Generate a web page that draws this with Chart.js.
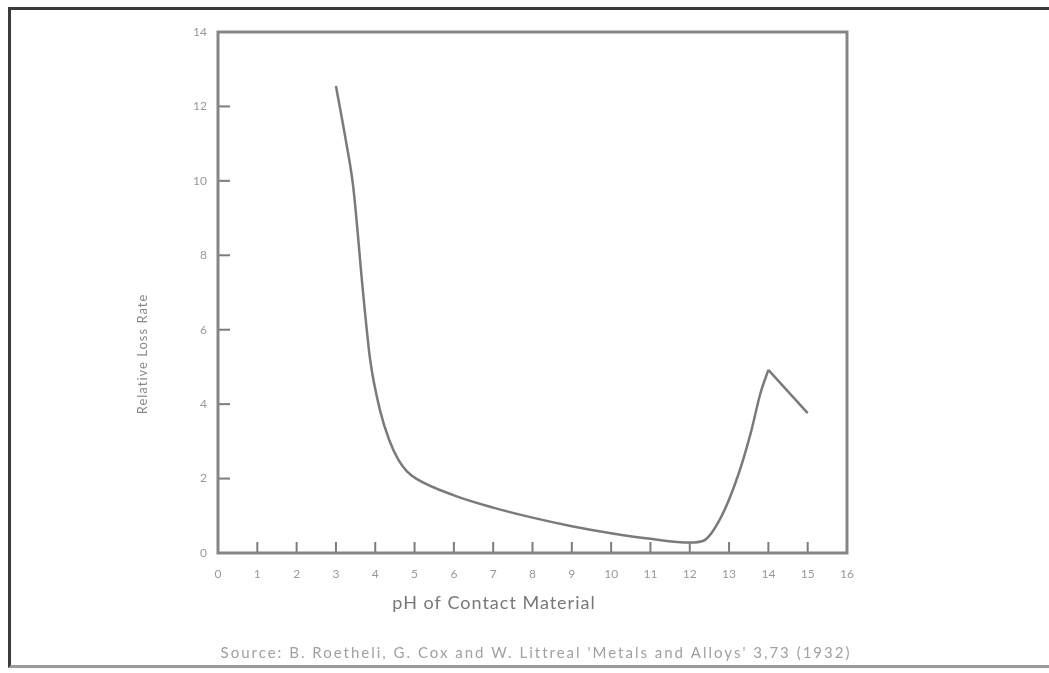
<!DOCTYPE html>
<html>
<head>
<meta charset="utf-8">
<script src="https://cdn.jsdelivr.net/npm/chart.js@4"></script>
<style>
  html, body { margin: 0; padding: 0; background: #fff; }
  body { width: 1049px; height: 673px; overflow: hidden; position: relative; }
  #frame {
    position: absolute; left: 8px; top: 7px; width: 1045px; height: 661px;
    border-top: 3px solid #3a3a3a; border-left: 3px solid #3a3a3a;
    border-bottom: 3px solid #9a9a9a; box-sizing: border-box;
  }
  #wrap { position: absolute; left: 0; top: 0; width: 1049px; height: 673px; }
</style>
</head>
<body>
<div id="frame"></div>
<div id="wrap"><canvas id="chart"></canvas></div>
<script>
const phValues = [3, 3.25, 3.44, 3.69, 3.87, 4.12, 4.35, 4.59, 4.8, 5.04, 6, 7, 8, 9, 10, 11, 12, 12.35, 12.8, 13.25, 13.55, 13.8, 14, 15];
const lossRate = [12.55, 11.1, 9.84, 7.0, 5.2, 3.84, 3.05, 2.5, 2.2, 2.0, 1.55, 1.22, 0.95, 0.72, 0.53, 0.38, 0.28, 0.33, 0.97, 2.15, 3.22, 4.3, 4.92, 3.76];

const xTitle = "pH of Contact Material";
const yTitle = "Relative Loss Rate";
const sourceNote = "Source: B. Roetheli, G. Cox and W. Littreal 'Metals and Alloys' 3,73 (1932)";

const points = phValues.map((x, i) => ({ x: x, y: lossRate[i] }));
// the curve bends smoothly up to the alkaline peak, then drops in a straight run
const peakIndex = lossRate.indexOf(Math.max(...lossRate.slice(10)));
const curvePart = points.slice(0, peakIndex + 1);
const tailPart = points.slice(peakIndex);

// inside tick marks, plot frame and the loose captions
const framePlugin = {
  id: "framePlugin",
  afterDraw(chart) {
    const ctx = chart.ctx;
    const area = chart.chartArea;
    const xs = chart.scales.x;
    const ys = chart.scales.y;

    ctx.save();
    ctx.strokeStyle = "#7c7c7c";
    ctx.lineWidth = 2;
    xs.ticks.forEach((t) => {
      const px = xs.getPixelForValue(t.value);
      ctx.beginPath();
      ctx.moveTo(px, area.bottom);
      ctx.lineTo(px, area.bottom - 11);
      ctx.stroke();
    });
    ys.ticks.forEach((t) => {
      const py = ys.getPixelForValue(t.value);
      ctx.beginPath();
      ctx.moveTo(area.left, py);
      ctx.lineTo(area.left + 12, py);
      ctx.stroke();
    });

    ctx.lineWidth = 3;
    ctx.strokeStyle = "#858585";
    ctx.strokeRect(area.left, area.top, area.right - area.left, area.bottom - area.top);

    ctx.fillStyle = "#777";
    ctx.textAlign = "center";
    ctx.textBaseline = "middle";
    ctx.letterSpacing = "1px";
    ctx.font = "18px Lato, 'Open Sans', sans-serif";
    ctx.fillText(xTitle, 494, 603);

    ctx.letterSpacing = "2px";
    ctx.font = "15px Lato, 'Open Sans', sans-serif";
    ctx.fillStyle = "#a0a0a0";
    ctx.fillText(sourceNote, 536, 653);

    ctx.letterSpacing = "1px";
    ctx.translate(143, 354);
    ctx.rotate(-Math.PI / 2);
    ctx.fillStyle = "#888";
    ctx.font = "13px Lato, 'Open Sans', sans-serif";
    ctx.fillText(yTitle, 0, 0);
    ctx.restore();
  }
};

const lineStyle = {
  borderColor: "#7a7a7a",
  borderWidth: 2.5,
  pointRadius: 0,
  fill: false
};

new Chart(document.getElementById("chart"), {
  type: "line",
  data: {
    datasets: [
      Object.assign({ data: curvePart, cubicInterpolationMode: "monotone" }, lineStyle),
      Object.assign({ data: tailPart, tension: 0 }, lineStyle)
    ]
  },
  options: {
    responsive: true,
    maintainAspectRatio: false,
    animation: false,
    layout: {
      padding: { left: 178, top: 32, right: 202, bottom: 80 }
    },
    plugins: {
      legend: { display: false },
      tooltip: { enabled: false }
    },
    scales: {
      x: {
        type: "linear",
        min: 0,
        max: 16,
        afterFit: (s) => { s.height = 40; },
        grid: { display: false, drawTicks: false },
        border: { display: false },
        ticks: {
          stepSize: 1,
          padding: 14,
          color: "#999",
          font: { size: 12, family: "Lato, 'Open Sans', sans-serif" }
        }
      },
      y: {
        min: 0,
        max: 14,
        afterFit: (s) => { s.width = 40; },
        grid: { display: false, drawTicks: false },
        border: { display: false },
        ticks: {
          stepSize: 2,
          padding: 11,
          color: "#999",
          font: { size: 12, family: "Lato, 'Open Sans', sans-serif" }
        }
      }
    }
  },
  plugins: [framePlugin]
});
</script>
</body>
</html>
